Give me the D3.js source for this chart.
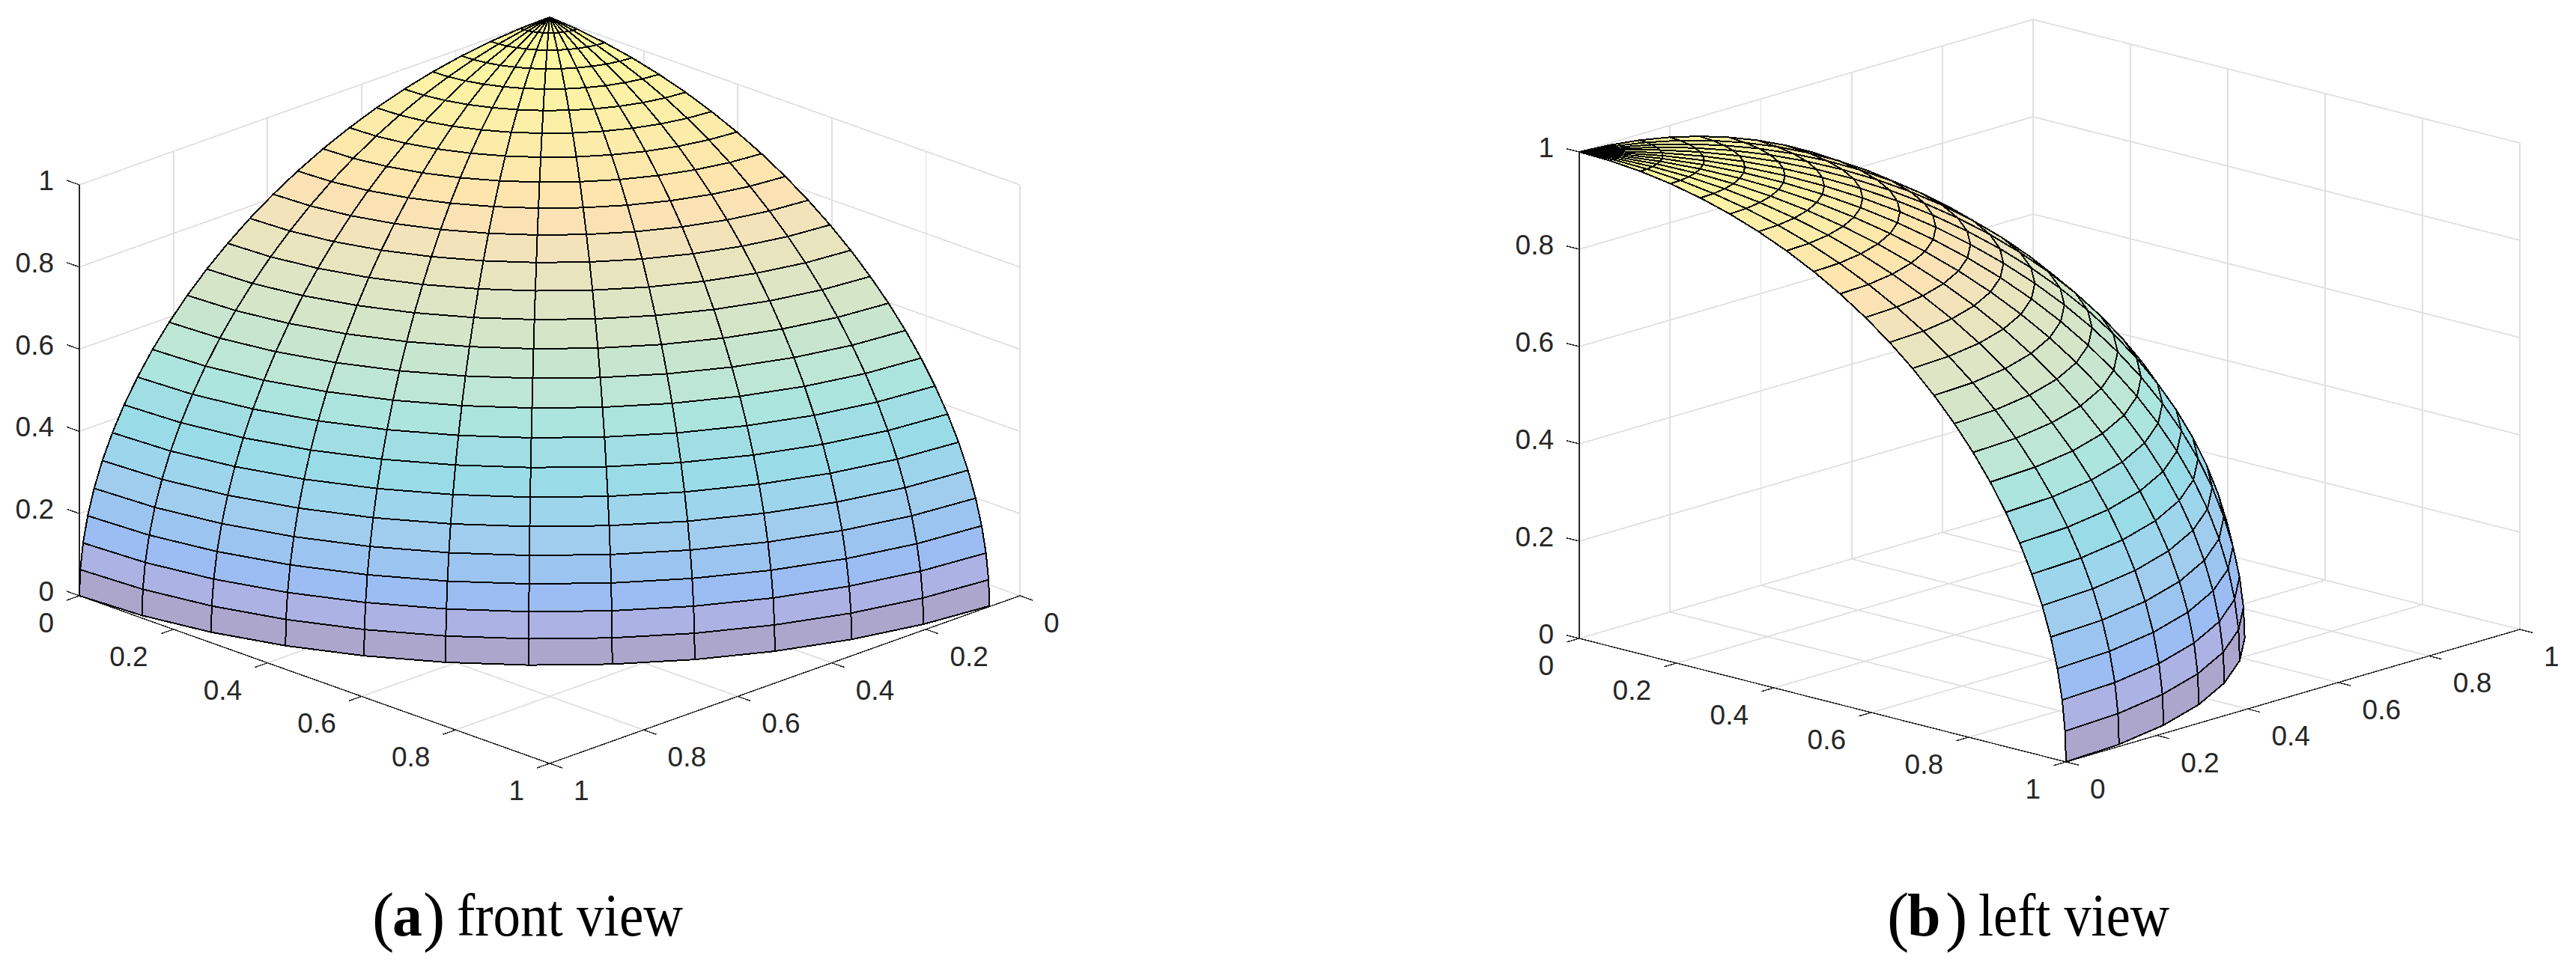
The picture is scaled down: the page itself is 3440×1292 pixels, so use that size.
<!DOCTYPE html>
<html>
<head>
<meta charset="utf-8">
<script src="https://cdn.jsdelivr.net/npm/d3@7"></script>
<style>
html,body{margin:0;padding:0;background:#fff;}
svg{display:block;}
</style>
</head>
<body>
<svg id="chart" width="3440" height="1292"></svg>
<script>
// Axis ticks shared by every axis
const tickValues = [0, 0.2, 0.4, 0.6, 0.8, 1];
const tickLabels = ['0', '0.2', '0.4', '0.6', '0.8', '1'];
// Mesh nodes of the octant surface, in degrees
const azimuthDeg = [0, 7.2, 14.4, 21.6, 28.8, 36, 43.2, 50.4, 57.6, 64.8, 72, 79.2, 86.4];
const elevationDeg = [0, 3.6, 7.2, 10.8, 14.4, 18, 21.6, 25.2, 28.8, 32.4, 36, 39.6, 43.2,
  46.8, 50.4, 54, 57.6, 61.2, 64.8, 68.4, 72, 75.6, 79.2, 82.8, 86.4, 90];
// One colour per elevation band, bottom to top
const bandColors = ['#aca6cd', '#acb2e3', '#9bbdf3', '#9bc5f0', '#a0cdee', '#9dd5ed', '#99dce8',
  '#a0dee4', '#ace4de', '#bee6d4', '#c8e6cf', '#d4e5c8', '#dee5c5', '#e8e4be', '#f3e3bb',
  '#fae2b4', '#fee5ae', '#fde8ab', '#fcecaa', '#fbefa7', '#fbf2a5', '#fbf5a3', '#fbf7a2', '#fbf8a1', '#fbf9a0'];
const captionLetters = ['a', 'b'];
const captionWords = ['front view', 'left view'];

const panels = [
  {
    origin: [734, 572], ex: [-628, 224], ey: [628, 224], h: 549,
    xAxisY: 1, xTick: [0, 0.0266], yAxisX: 1, yTick: [0.0266, 0],
    zAt: [1, 0], zTick: [0, -0.0266], wallX: 0, wallY: 0,
    xAnchor: 'start', yAnchor: 'end',
    capY: 1250, capOpen: 497, capLetter: 524, capClose: 565, capWords: 610, capWordsLen: 302
  },
  {
    origin: [2109, 853], ex: [650, 165], ey: [606, -177], h: 650,
    xAxisY: 0, xTick: [0, -0.0275], yAxisX: 1, yTick: [0.0257, 0],
    zAt: [0, 0], zTick: [-0.0257, 0], wallX: 0, wallY: 1,
    xAnchor: 'end', yAnchor: 'start',
    capY: 1250, capOpen: 2520, capLetter: 2547, capClose: 2598, capWords: 2642, capWordsLen: 255
  }
];

const svg = d3.select('#chart');
const rad = d => d * Math.PI / 180;
const GRID = '#e0e0e0', AXIS = '#262626';

panels.forEach((p, pi) => {
  const g = svg.append('g');
  const sx = d3.scaleLinear().domain([0, 1]).range([[0, 0], p.ex]);
  const sy = d3.scaleLinear().domain([0, 1]).range([[0, 0], p.ey]);
  const sz = d3.scaleLinear().domain([0, 1]).range([[0, 0], [0, -p.h]]);
  const project = (x, y, z) => {
    const a = sx(x), b = sy(y), c = sz(z);
    return [p.origin[0] + a[0] + b[0] + c[0], p.origin[1] + a[1] + b[1] + c[1]];
  };
  const seg = (a, b) => ({a: project(...a), b: project(...b)});
  const drawLines = (cls, list, color, width) => g.append('g').attr('class', cls)
    .attr('shape-rendering', 'crispEdges')
    .selectAll('line').data(list).join('line')
    .attr('x1', d => d.a[0]).attr('y1', d => d.a[1])
    .attr('x2', d => d.b[0]).attr('y2', d => d.b[1])
    .attr('stroke', color).attr('stroke-width', width).attr('stroke-linecap', 'butt');

  // grid on two back walls and the floor
  const grid = [];
  tickValues.forEach(t => {
    grid.push(seg([t, 0, 0], [t, 1, 0]));
    grid.push(seg([0, t, 0], [1, t, 0]));
    grid.push(seg([p.wallX, t, 0], [p.wallX, t, 1]));
    grid.push(seg([p.wallX, 0, t], [p.wallX, 1, t]));
    grid.push(seg([t, p.wallY, 0], [t, p.wallY, 1]));
    grid.push(seg([0, p.wallY, t], [1, p.wallY, t]));
  });
  drawLines('grid', grid, GRID, 1.8);

  // axis rulers and ticks
  const axis = [
    seg([0, p.xAxisY, 0], [1, p.xAxisY, 0]),
    seg([p.yAxisX, 0, 0], [p.yAxisX, 1, 0]),
    seg([p.zAt[0], p.zAt[1], 0], [p.zAt[0], p.zAt[1], 1])
  ];
  tickValues.forEach(t => {
    axis.push(seg([t, p.xAxisY, 0], [t + p.xTick[0], p.xAxisY + p.xTick[1], 0]));
    axis.push(seg([p.yAxisX, t, 0], [p.yAxisX + p.yTick[0], t + p.yTick[1], 0]));
    axis.push(seg([p.zAt[0], p.zAt[1], t], [p.zAt[0] + p.zTick[0], p.zAt[1] + p.zTick[1], t]));
  });
  drawLines('axis', axis, AXIS, 1.4);

  // view direction: the null vector of the projection, pointing up
  const r1 = [p.ex[0], p.ey[0], 0], r2 = [p.ex[1], p.ey[1], -p.h];
  let v = [r1[1] * r2[2] - r1[2] * r2[1], r1[2] * r2[0] - r1[0] * r2[2], r1[0] * r2[1] - r1[1] * r2[0]];
  if (v[2] < 0) v = v.map(d => -d);
  const node = (az, el) => [Math.cos(rad(el)) * Math.cos(rad(az)),
                            Math.cos(rad(el)) * Math.sin(rad(az)),
                            Math.sin(rad(el))];
  const faces = [];
  for (let i = 0; i < azimuthDeg.length - 1; i++) {
    for (let j = 0; j < elevationDeg.length - 1; j++) {
      const c = [node(azimuthDeg[i], elevationDeg[j]), node(azimuthDeg[i + 1], elevationDeg[j]),
                 node(azimuthDeg[i + 1], elevationDeg[j + 1]), node(azimuthDeg[i], elevationDeg[j + 1])];
      const m = [d3.mean(c, d => d[0]), d3.mean(c, d => d[1]), d3.mean(c, d => d[2])];
      faces.push({
        pts: c.map(d => project(...d)),
        depth: m[0] * v[0] + m[1] * v[1] + m[2] * v[2],
        color: bandColors[j]
      });
    }
  }
  faces.sort((a, b) => d3.ascending(a.depth, b.depth));
  g.append('g').attr('class', 'surface').selectAll('polygon').data(faces).join('polygon')
    .attr('points', d => d.pts.map(q => q.join(',')).join(' '))
    .attr('fill', d => d.color)
    .attr('stroke', '#000').attr('stroke-width', 2).attr('stroke-linejoin', 'round')
    .attr('shape-rendering', 'crispEdges');

  // tick labels
  const txt = (x, y, s, anchor, dy) => g.append('text')
    .attr('x', x).attr('y', y).attr('dy', dy).attr('text-anchor', anchor)
    .attr('font-family', '"Liberation Sans", Arial, sans-serif').attr('font-size', 37)
    .attr('fill', AXIS).text(s);
  const off = a => a === 'end' ? -34 : 32;
  tickValues.forEach((t, i) => {
    const px = project(t, p.xAxisY, 0);
    txt(px[0] + off(p.xAnchor), px[1] + 36, tickLabels[i], p.xAnchor, 13);
    const py = project(p.yAxisX, t, 0);
    txt(py[0] + off(p.yAnchor), py[1] + 36, tickLabels[i], p.yAnchor, 13);
    const pz = project(p.zAt[0], p.zAt[1], t);
    txt(pz[0] - 34, pz[1] - 6, tickLabels[i], 'end', 13);
  });

  // caption
  const cap = (x, s, size, weight) => g.append('text')
    .attr('x', x).attr('y', p.capY)
    .attr('font-family', '"Liberation Serif", serif').attr('font-size', size)
    .attr('font-weight', weight).attr('fill', '#000').text(s);
  cap(p.capOpen, '(', 88, 'normal').attr('dy', 4);
  cap(p.capLetter, captionLetters[pi], 80, 'bold');
  cap(p.capClose, ')', 88, 'normal').attr('dy', 4);
  cap(p.capWords, captionWords[pi], 80, 'normal')
    .attr('textLength', p.capWordsLen).attr('lengthAdjust', 'spacingAndGlyphs');
});
</script>
</body>
</html>
